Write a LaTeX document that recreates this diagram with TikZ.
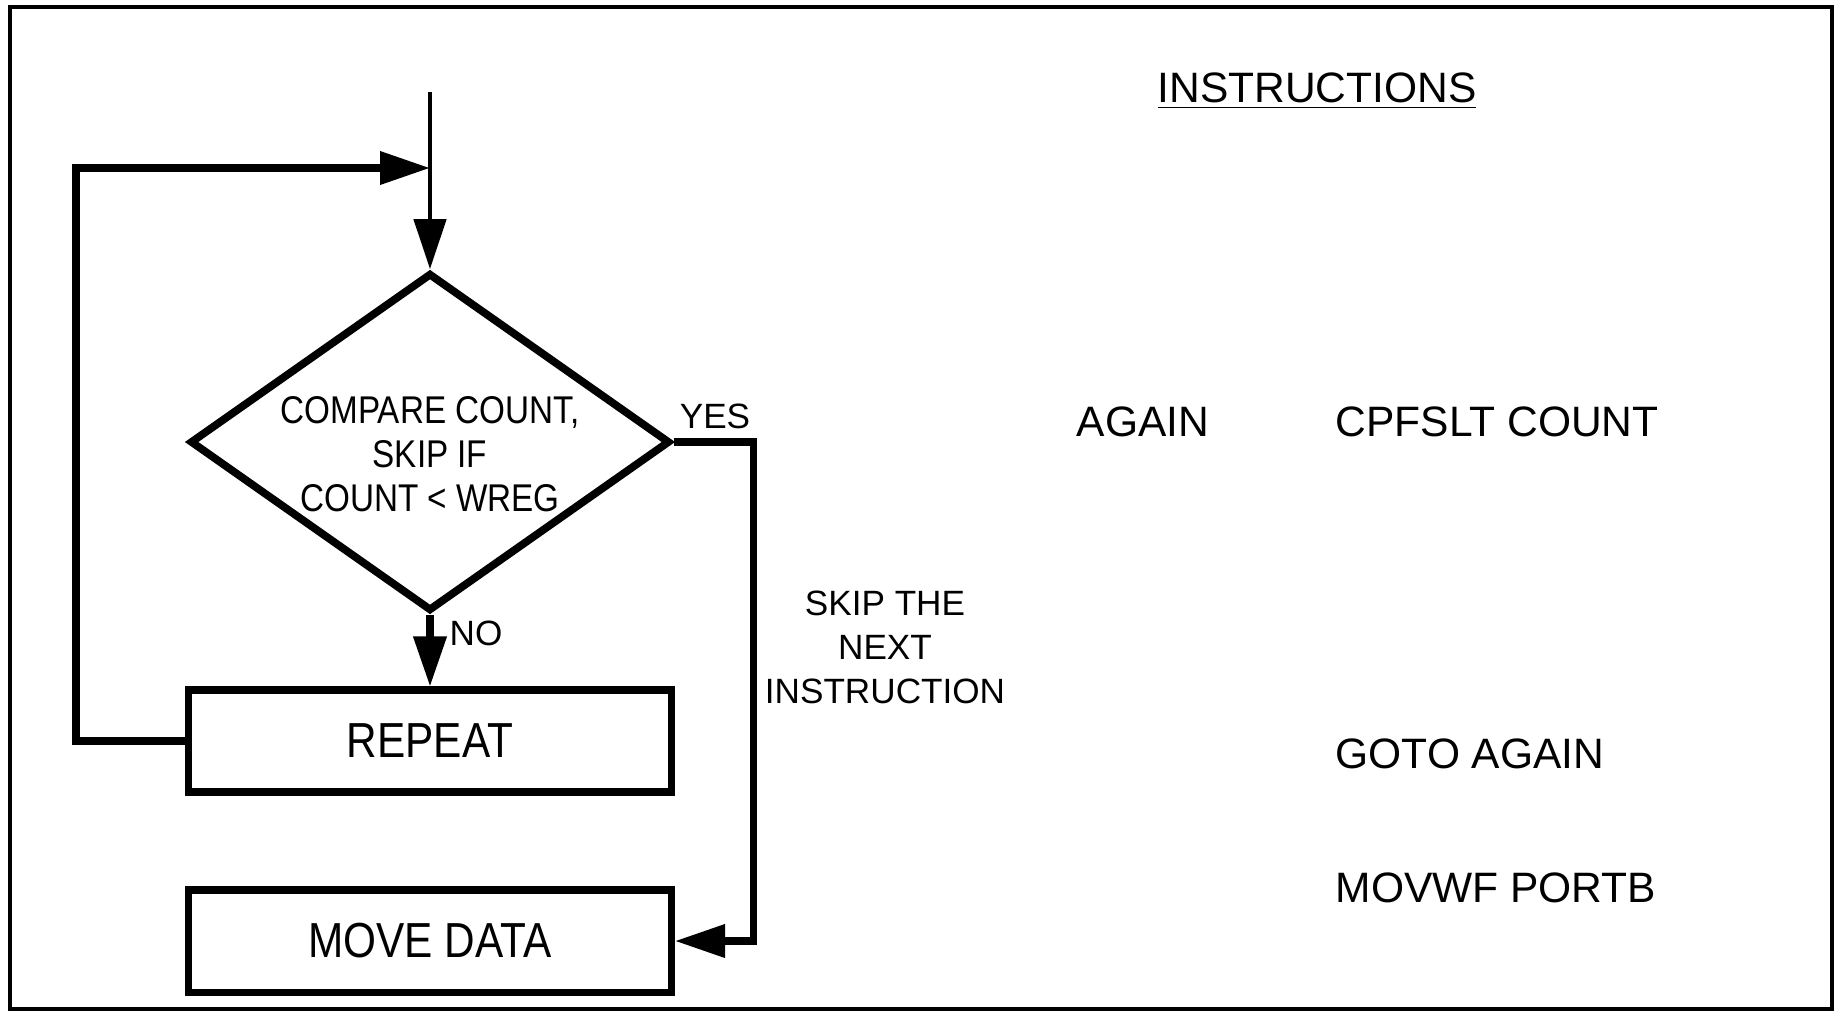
\documentclass[tikz,border=0pt]{standalone}
\usepackage{fontspec}
\setmainfont{Liberation Sans}
\newfontfamily\narrowfont{Liberation Sans}[FakeStretch=0.86]
\usetikzlibrary{calc,positioning,shapes.geometric,arrows.meta}
\tikzset{
   process/.style={ rectangle, draw=black, line width=2pt, minimum width=4.83cm, minimum height=1.02cm, font=\narrowfont\fontsize{14}{16}\selectfont},
   decision/.style={ diamond, draw=black, line width=2.2pt, minimum width=4.8cm, minimum height=3.38cm, inner sep=0pt},
   flow/.style={ line width=2pt},
   entry line/.style={ line width=1.3pt},
   small label/.style={ font=\fontsize{10}{12.5}\selectfont, inner sep=0pt, align=center},
   code/.style={ font=\fontsize{12.1}{14}\selectfont, inner sep=0pt},
   >={Triangle[length=5mm,width=3.2mm]}
}
\begin{document}
\begin{tikzpicture}

  \useasboundingbox (0,0) rectangle (18.39,-10.13);
  \draw[line width=0.9pt] (0.10,-0.07) rectangle (18.32,-10.09);

  \coordinate (entry) at (4.30,-0.92);
  \coordinate (merge) at (4.30,-1.68);

  \node[decision] at (4.30,-4.42) (compare) {};
  \node[small label, font=\narrowfont\fontsize{11}{12.5}\selectfont] at (4.30,-4.54) (compare text) {COMPARE COUNT,\\SKIP IF\\COUNT < WREG};

  \node[process] at (4.30,-7.41) (repeat) {REPEAT};
  \node[process] at (4.30,-9.41) (move data) {MOVE DATA};

  %%%%%%%%%%%

  \node[small label] at (7.15,-4.16) (yes) {YES};
  \node[small label] at (4.76,-6.33) (no) {NO};
  \node[small label] at (8.85,-6.47) (skip) {SKIP THE\\NEXT\\INSTRUCTION};

  \node[code] at (13.17,-0.91) (instructions) {\underline{INSTRUCTIONS}};
  \node[code] at (11.43,-4.22) (again) {AGAIN};
  \node[code, anchor=west] at (13.35,-4.22) (cpfslt) {CPFSLT COUNT};
  \node[code, anchor=west] at (13.35,-7.54) (goto) {GOTO AGAIN};
  \node[code, anchor=west] at (13.35,-8.88) (movwf) {MOVWF PORTB};

  %%%%%%%%%%%

  \draw[->,entry line] (entry) -- (compare.north);
  \draw[->,flow] (compare.south) -- (repeat.north);
  \draw[->,flow] (repeat.west) -- ++(-1.09,0) |- (merge);
  \draw[->,flow] (compare.east) -- ++(0.80,0) |- (move data.east);

\end{tikzpicture}
\end{document}
